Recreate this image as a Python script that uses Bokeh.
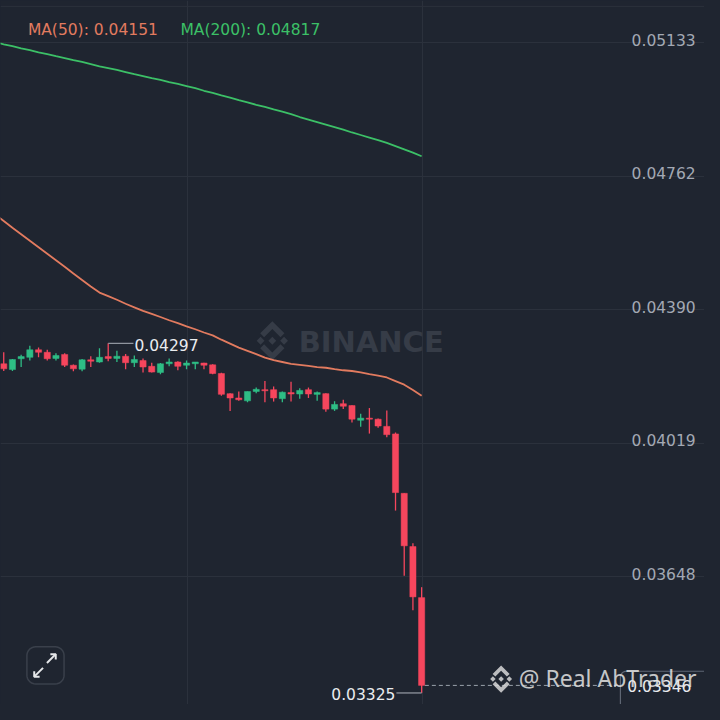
import math
from bokeh.plotting import figure
from bokeh.models import Range1d, Grid, FixedTicker
from bokeh.core.properties import value
from bokeh.embed import file_html
from bokeh.resources import INLINE

# ---------------- data ----------------
opens = [0.04240, 0.04224, 0.04254, 0.04258, 0.04279, 0.04272, 0.04255, 0.04266, 0.04236, 0.04225,
         0.04251, 0.04245, 0.04260, 0.04255, 0.04261, 0.04243, 0.04249, 0.04233, 0.04216, 0.04240,
         0.04245, 0.04236, 0.04240, 0.04242, 0.04237, 0.04213, 0.04157, 0.04145, 0.04137, 0.04163,
         0.04168, 0.04168, 0.04143, 0.04160, 0.04156, 0.04168, 0.04155, 0.04157, 0.04114, 0.04129,
         0.04124, 0.04083, 0.04089, 0.04086, 0.04066, 0.04045, 0.03880, 0.03732, 0.03590]
highs = [0.04272, 0.04253, 0.04265, 0.04290, 0.04285, 0.04279, 0.04269, 0.04269, 0.04238, 0.04253,
         0.04261, 0.04283, 0.04297, 0.04276, 0.04267, 0.04263, 0.04255, 0.04243, 0.04242, 0.04255,
         0.04247, 0.04249, 0.04245, 0.04243, 0.04239, 0.04215, 0.04158, 0.04163, 0.04163, 0.04174,
         0.04192, 0.04177, 0.04163, 0.04190, 0.04172, 0.04174, 0.04163, 0.04158, 0.04136, 0.04140,
         0.04125, 0.04101, 0.04117, 0.04088, 0.04110, 0.04049, 0.03880, 0.03741, 0.03619]
lows = [0.04220, 0.04220, 0.04231, 0.04249, 0.04258, 0.04249, 0.04249, 0.04231, 0.04219, 0.04219,
        0.04231, 0.04243, 0.04247, 0.04245, 0.04225, 0.04231, 0.04216, 0.04216, 0.04211, 0.04233,
        0.04222, 0.04225, 0.04225, 0.04225, 0.04211, 0.04151, 0.04109, 0.04137, 0.04133, 0.04158,
        0.04133, 0.04135, 0.04133, 0.04135, 0.04143, 0.04145, 0.04137, 0.04107, 0.04109, 0.04114,
        0.04077, 0.04065, 0.04046, 0.04062, 0.04036, 0.03832, 0.03651, 0.03555, 0.03325]
closes = [0.04226, 0.04252, 0.04260, 0.04279, 0.04272, 0.04254, 0.04263, 0.04236, 0.04226, 0.04251,
          0.04247, 0.04258, 0.04255, 0.04261, 0.04243, 0.04252, 0.04231, 0.04217, 0.04240, 0.04245,
          0.04233, 0.04242, 0.04245, 0.04236, 0.04213, 0.04155, 0.04145, 0.04140, 0.04163, 0.04169,
          0.04165, 0.04145, 0.04161, 0.04156, 0.04166, 0.04156, 0.04160, 0.04114, 0.04127, 0.04122,
          0.04086, 0.04089, 0.04086, 0.04067, 0.04043, 0.03882, 0.03734, 0.03592, 0.03346]

ma_index = list(range(-1, 49))
ma50 = [0.04655, 0.04637, 0.04618, 0.04600, 0.04582, 0.04564, 0.04546, 0.04528, 0.04510, 0.04491,
        0.04473, 0.04455, 0.04438, 0.04428, 0.04418, 0.04407, 0.04397, 0.04387, 0.04379, 0.04370,
        0.04361, 0.04353, 0.04344, 0.04336, 0.04327, 0.04319, 0.04307, 0.04296, 0.04285, 0.04276,
        0.04267, 0.04257, 0.04250, 0.04245, 0.04240, 0.04237, 0.04234, 0.04231, 0.04229, 0.04225,
        0.04222, 0.04220, 0.04216, 0.04211, 0.04207, 0.04202, 0.04192, 0.04182, 0.04167, 0.04151]
ma200 = [0.05134, 0.05128, 0.05123, 0.05117, 0.05112, 0.05106, 0.05101, 0.05095, 0.05090, 0.05084,
         0.05079, 0.05073, 0.05067, 0.05062, 0.05057, 0.05051, 0.05045, 0.05040, 0.05034, 0.05029,
         0.05023, 0.05018, 0.05012, 0.05006, 0.04999, 0.04993, 0.04986, 0.04980, 0.04973, 0.04967,
         0.04960, 0.04954, 0.04947, 0.04941, 0.04934, 0.04926, 0.04919, 0.04912, 0.04905, 0.04898,
         0.04891, 0.04883, 0.04876, 0.04869, 0.04862, 0.04854, 0.04845, 0.04836, 0.04827, 0.04817]

price_ticks = [0.03648, 0.04019, 0.04390, 0.04762, 0.05133]
tick_labels = ["0.03648", "0.04019", "0.04390", "0.04762", "0.05133"]
time_grid = [21.1, 48.15]

# ---------------- style ----------------
BG = "#1f2530"
GRID = "#2b313c"
UP = "#2ebd85"
DOWN = "#f6465d"
MA50_C = "#e27b5f"
MA200_C = "#3cc067"
AXIS_TXT = "#a3a9b4"
WM = "#363c47"
FONT = "DejaVu Sans"

idx = list(range(len(opens)))

p = figure(width=704, height=704,
           x_range=Range1d(-0.3706, 80.49), y_range=Range1d(0.032929, 0.052499),
           output_backend="svg", toolbar_location=None,
           x_axis_location=None, y_axis_location=None, min_border=0,
           background_fill_color=BG, border_fill_color=BG, outline_line_color=None)
# pixel frame of the 720px reference, drawn scaled into the 704px figure
p.extra_x_ranges = {"px": Range1d(0, 720)}
p.extra_y_ranges = {"px": Range1d(720, 0)}
p.center = []
p.add_layout(Grid(dimension=1, ticker=FixedTicker(ticks=price_ticks), grid_line_color=GRID, grid_line_width=1))
p.add_layout(Grid(dimension=0, ticker=FixedTicker(ticks=time_grid), grid_line_color=GRID, grid_line_width=1))
p.segment(x0=[0], x1=[720], y0=[6], y1=[6], x_range_name="px", y_range_name="px",
          line_color=GRID, line_width=1)


def logo_polys(cx, cy, r):
    pieces = [
        [(0, 0.2), (0.2, 0), (0, -0.2), (-0.2, 0)],
        [(-0.6, 0.2), (-0.4, 0), (-0.6, -0.2), (-0.8, 0)],
        [(0.6, 0.2), (0.8, 0), (0.6, -0.2), (0.4, 0)],
        [(0, 1), (0.62, 0.38), (0.42, 0.18), (0, 0.6), (-0.42, 0.18), (-0.62, 0.38)],
        [(0, -1), (0.62, -0.38), (0.42, -0.18), (0, -0.6), (-0.42, -0.18), (-0.62, -0.38)],
    ]
    xs = [[cx + r * a for a, b in pc] for pc in pieces]
    ys = [[cy - r * b for a, b in pc] for pc in pieces]
    return xs, ys


def rounded_rect(x0, y0, x1, y1, r, n=8):
    xs, ys = [], []
    corners = [(x1 - r, y0 + r, -90), (x1 - r, y1 - r, 0), (x0 + r, y1 - r, 90), (x0 + r, y0 + r, 180)]
    for cx, cy, a0 in corners:
        for k in range(n + 1):
            a = math.radians(a0 + 90 * k / n)
            xs.append(cx + r * math.cos(a))
            ys.append(cy + r * math.sin(a))
    return xs, ys


# BINANCE watermark
lx, ly = logo_polys(278, 348, 20)
p.patches(lx, ly, x_range_name="px", y_range_name="px", fill_color=WM, line_color=None)
p.text(x=[305], y=[349], text=["BINANCE"], x_range_name="px", y_range_name="px",
       text_baseline="middle", text_align="left", text_font=value("DejaVu Sans"),
       text_font_style="bold", text_font_size="29px", text_color=WM)

# moving averages
p.line(ma_index, ma200, line_color=MA200_C, line_width=1.8)
p.line(ma_index, ma50, line_color=MA50_C, line_width=1.8)

# candles
colors = [UP if c >= o else DOWN for o, c in zip(opens, closes)]
p.segment(x0=idx, x1=idx, y0=lows, y1=highs, line_color=colors, line_width=1.3)
p.vbar(x=idx, width=0.71, top=[max(o, c) for o, c in zip(opens, closes)],
       bottom=[min(o, c) for o, c in zip(opens, closes)], fill_color=colors, line_color=colors, line_width=0.5)

# high / low annotations
hi_i = max(idx, key=lambda i: highs[i])
lo_i = min(idx, key=lambda i: lows[i])
hi, lo = highs[hi_i], lows[lo_i]
p.segment(x0=[hi_i], x1=[hi_i + 2.9], y0=[hi], y1=[hi], line_color="#8f959e", line_width=1.3)
p.text(x=[hi_i + 2.9], y=[hi], text=[f"{hi:.5f}"], x_offset=1, y_offset=1.5,
       text_baseline="middle", text_align="left", text_font=value(FONT),
       text_font_size="15.5px", text_color="#eaecef")
p.segment(x0=[lo_i - 2.9], x1=[lo_i], y0=[lo], y1=[lo], line_color="#8f959e", line_width=1.3)
p.text(x=[lo_i - 2.9], y=[lo], text=[f"{lo:.5f}"], x_offset=-1, y_offset=1,
       text_baseline="middle", text_align="right", text_font=value(FONT),
       text_font_size="15.5px", text_color="#eaecef")

# last price line and box
last = closes[-1]
p.segment(x0=[434], x1=[633], y0=[last], y1=[last], x_range_name="px",
          line_color="#9aa1ab", line_width=1, line_dash="4 3")
bx, by = rounded_rect(634, 686, 730, 745, 6)
p.patch(bx, by, x_range_name="px", y_range_name="px", fill_color=BG, line_color="#5e6673", line_width=1.2)
p.text(x=[641], y=[last], text=[f"{last:.5f}"], x_range_name="px", y_offset=1,
       text_baseline="middle", text_align="left", text_font=value(FONT),
       text_font_size="15.5px", text_color="#eaecef")

# price axis labels
p.text(x=[711] * len(price_ticks), y=price_ticks, text=tick_labels, x_range_name="px",
       text_align="right", text_baseline="alphabetic", y_offset=-3,
       text_font=value(FONT), text_font_size="15.5px", text_color=AXIS_TXT)

# MA legend
p.text(x=[28], y=[30], text=[f"MA(50): {ma50[-1]:.5f}"], x_range_name="px", y_range_name="px",
       text_baseline="alphabetic", text_align="left", text_font=value(FONT),
       text_font_size="15.5px", text_color=MA50_C)
p.text(x=[184], y=[30], text=[f"MA(200): {ma200[-1]:.5f}"], x_range_name="px", y_range_name="px",
       text_baseline="alphabetic", text_align="left", text_font=value(FONT),
       text_font_size="15.5px", text_color=MA200_C)

# expand icon
ex, ey = rounded_rect(27, 661, 65, 699, 9)
p.patch(ex, ey, x_range_name="px", y_range_name="px", fill_color=None, line_color="#3a404b", line_width=1.5)
p.multi_line(xs=[[47.5, 56.5], [51, 56.5, 56.5], [43.5, 34.5], [34.5, 34.5, 40]],
             ys=[[677.5, 668.5], [668.5, 668.5, 674], [682.5, 691.5], [686, 691.5, 691.5]],
             x_range_name="px", y_range_name="px", line_color="#e6e8ea", line_width=2)

# user watermark
wx, wy = logo_polys(512, 694, 14)
p.patches(wx, wy, x_range_name="px", y_range_name="px", fill_color="#d8d8d8", fill_alpha=0.85, line_color=None)
p.text(x=[530], y=[693], text=["@ Real AbTrader"], x_range_name="px", y_range_name="px",
       text_baseline="middle", text_align="left", text_font=value("Noto Sans"),
       text_font_size="23px", text_color="#e4e4e4", text_alpha=0.85)

html = file_html(p, INLINE, title="chart")
html = html.replace("</head>", "<style>html,body{background:%s;}</style></head>" % BG, 1)
open("out.html", "w").write(html)
